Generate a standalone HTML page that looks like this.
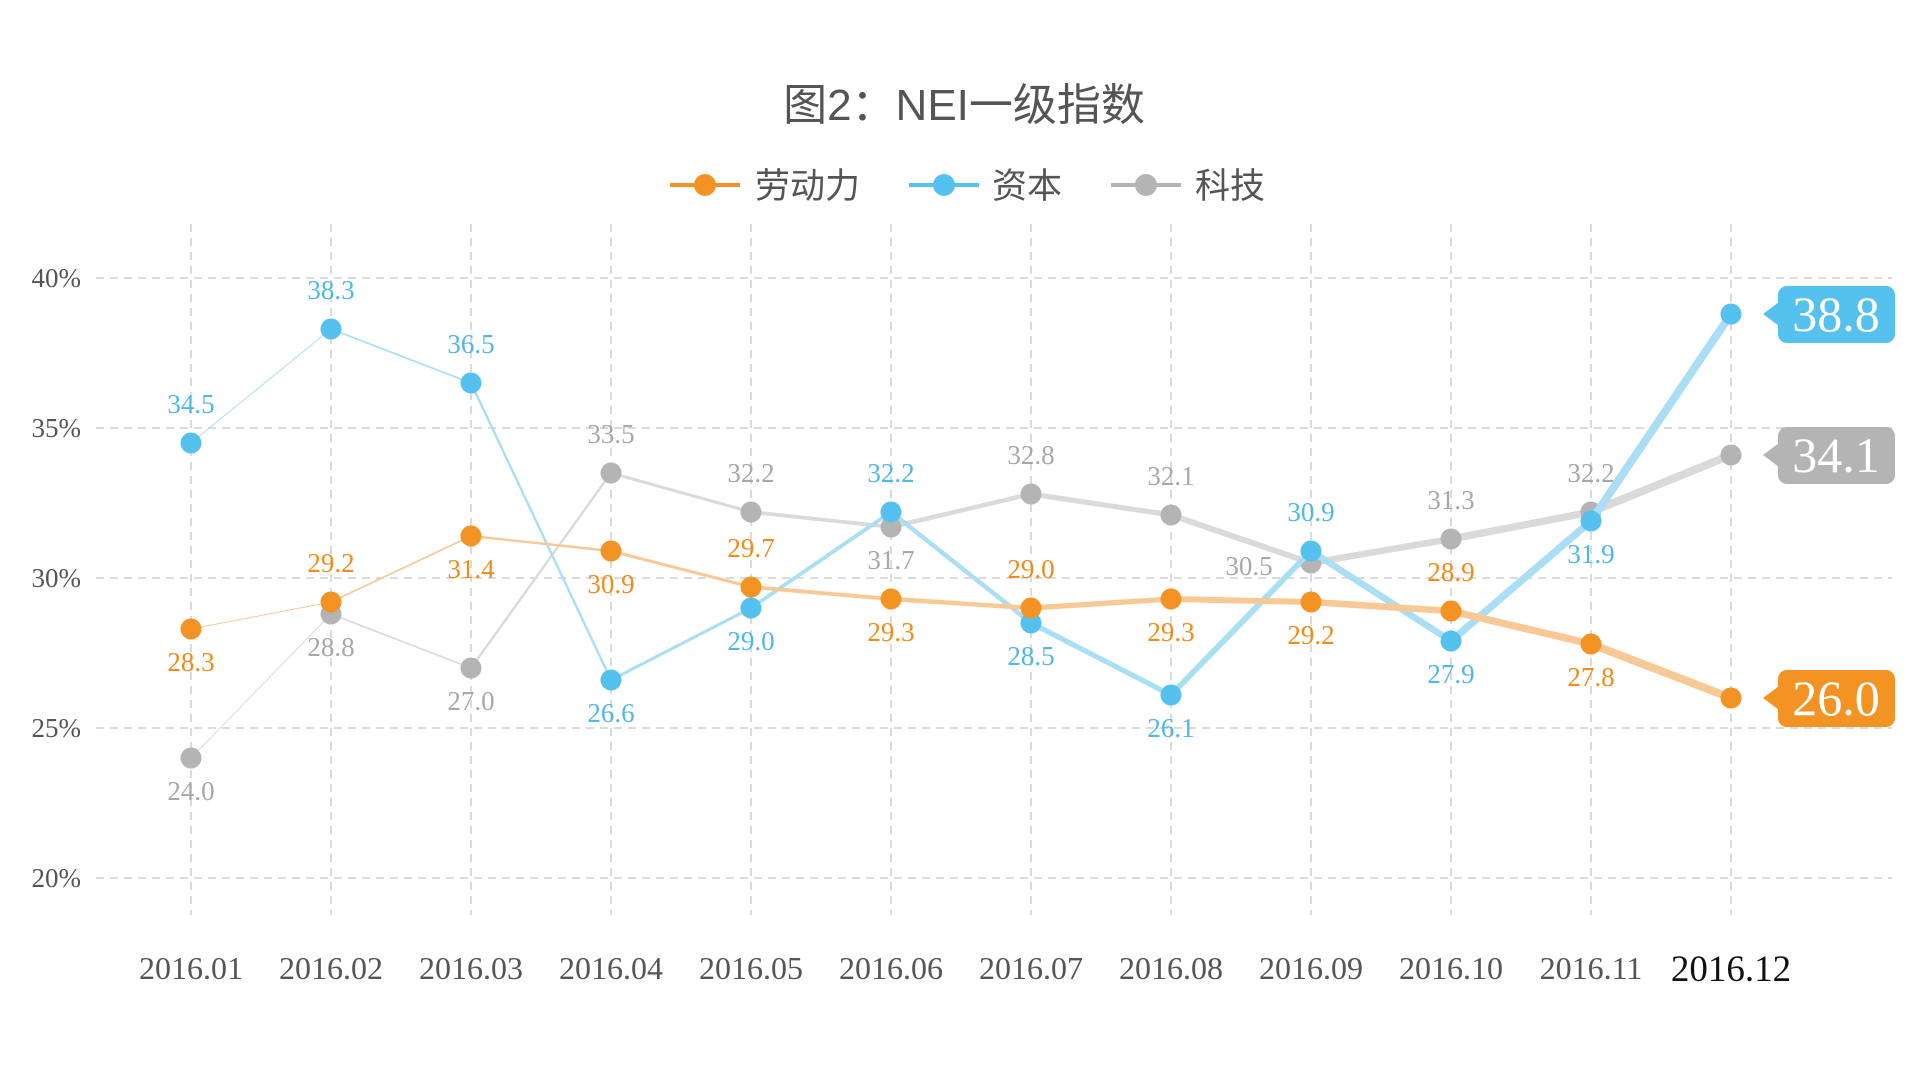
<!DOCTYPE html>
<html><head><meta charset="utf-8">
<style>
html,body{margin:0;padding:0;background:#fff;}
svg{display:block;}
</style></head>
<body>
<svg id="chart" width="1920" height="1080" viewBox="0 0 1920 1080" xmlns="http://www.w3.org/2000/svg">
<text x="964" y="120" text-anchor="middle" font-family="'Liberation Sans','Noto Sans CJK SC',sans-serif" font-size="44" fill="#555">图2：NEI一级指数</text>
<g id="legend">
 <g>
  <line x1="670" y1="185" x2="740" y2="185" stroke="#f39323" stroke-width="4"/>
  <circle cx="705" cy="185" r="11" fill="#f39323"/>
  <text x="755" y="198" font-family="'Liberation Sans','Noto Sans CJK SC',sans-serif" font-size="35" fill="#555">劳动力</text>
 </g>
 <g>
  <line x1="909" y1="185" x2="979" y2="185" stroke="#55c1ef" stroke-width="4"/>
  <circle cx="944" cy="185" r="11" fill="#55c1ef"/>
  <text x="992" y="198" font-family="'Liberation Sans','Noto Sans CJK SC',sans-serif" font-size="35" fill="#555">资本</text>
 </g>
 <g>
  <line x1="1111" y1="185" x2="1181" y2="185" stroke="#b4b4b4" stroke-width="4"/>
  <circle cx="1146" cy="185" r="11" fill="#b4b4b4"/>
  <text x="1195" y="198" font-family="'Liberation Sans','Noto Sans CJK SC',sans-serif" font-size="35" fill="#555">科技</text>
 </g>
</g>
<g id="grid"></g>
<g id="axes"></g>
<g id="series"></g>
</svg>
<script>
const categories = ['2016.01','2016.02','2016.03','2016.04','2016.05','2016.06','2016.07','2016.08','2016.09','2016.10','2016.11','2016.12'];
const laborValues = [28.3,29.2,31.4,30.9,29.7,29.3,29.0,29.3,29.2,28.9,27.8,26.0];
const capitalValues = [34.5,38.3,36.5,26.6,29.0,32.2,28.5,26.1,30.9,27.9,31.9,38.8];
const techValues = [24.0,28.8,27.0,33.5,32.2,31.7,32.8,32.1,30.5,31.3,32.2,34.1];
const yTicks = [20,25,30,35,40];
const laborLabelSide = ['b','a','b','b','a','b','a','b','b','a','b','t'];
const capitalLabelSide = ['a','a','a','b','b','a','b','b','a','b','b','t'];
const techLabelSide = ['b','b','b','a','a','b','a','a','l','a','a','t'];

const NS='http://www.w3.org/2000/svg';
const svg=document.getElementById('chart');
const gGrid=document.getElementById('grid'), gAxes=document.getElementById('axes'), gSeries=document.getElementById('series');
function x(i){return 191+i*140;}
function y(v){return 878-(v-20)*(878-278)/20;}
function mk(tag,attrs,parent){const e=document.createElementNS(NS,tag);for(const k in attrs)e.setAttribute(k,attrs[k]);parent.appendChild(e);return e;}
const serif="'Liberation Serif','Noto Serif CJK SC',serif";

yTicks.forEach(t=>{
  const l=mk('line',{x1:96,x2:1892,y1:y(t),y2:y(t),stroke:'#cfcfcf','stroke-width':1.5,'stroke-dasharray':'8,6'},gGrid);
  
  
  const tx=mk('text',{x:81,y:y(t)+9,'text-anchor':'end','font-family':serif,'font-size':27,fill:'#555'},gAxes);
  tx.textContent=t+'%';
  
  
});
categories.forEach((c,i)=>{
  const l=mk('line',{x1:x(i),x2:x(i),y1:224,y2:915,stroke:'#cfcfcf','stroke-width':1.5,'stroke-dasharray':'8,6'},gGrid);
  
  
  const last=i===categories.length-1;
  const tx=mk('text',{x:x(i),y:last?981:979,'text-anchor':'middle','font-family':serif,'font-size':last?37:32,fill:last?'#111':'#555'},gAxes);
  tx.textContent=c;
  
  
});

function drawSeries(name,vals,sides,lineColor,color,textColor){
  const g=mk('g',{},gSeries);
  
  
  for(let i=0;i<vals.length-1;i++){
    const s=mk('line',{x1:x(i),y1:y(vals[i]),x2:x(i+1),y2:y(vals[i+1]),stroke:lineColor,'stroke-width':1+i*0.7,'stroke-linecap':'round'},g);
    
    
  }
  vals.forEach((v,i)=>{
    const c=mk('circle',{cx:x(i),cy:y(v),r:10.5,fill:color},g);
    
    
    const sd=sides[i];
    if(sd==='t'){
      const tg=mk('g',{},g);
      
      
      const cy=y(v), x0=1778;
      mk('rect',{x:x0,y:cy-28,width:117,height:57,rx:9,fill:color},tg);
      mk('path',{d:`M${x0+1},${cy-12} L${x0-15},${cy} L${x0+1},${cy+12} Z`,fill:color},tg);
      const t=mk('text',{x:x0+58,y:cy+17,'text-anchor':'middle','font-family':serif,'font-size':50,fill:'#fff'},tg);
      t.textContent=v.toFixed(1);
    } else {
      let tx=x(i),ty,anchor='middle';
      if(sd==='a')ty=y(v)-30;
      else if(sd==='b')ty=y(v)+42;
      else {tx=x(i)-62;ty=y(v)+12;}
      const t=mk('text',{x:tx,y:ty,'text-anchor':anchor,'font-family':serif,'font-size':27,fill:textColor},g);
      t.textContent=v.toFixed(1);
      
      
    }
  });
}
drawSeries('tech',techValues,techLabelSide,'#dadada','#b4b4b4','#a8a8a8');
drawSeries('capital',capitalValues,capitalLabelSide,'#a9def5','#55c1ef','#4fb8e8');
drawSeries('labor',laborValues,laborLabelSide,'#f8c895','#f39323','#f08c1c');
</script>
</body></html>
